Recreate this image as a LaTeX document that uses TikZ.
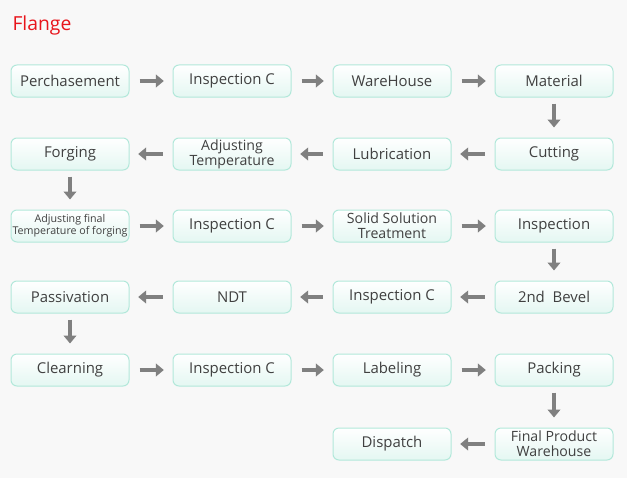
\documentclass[tikz,border=0pt]{standalone}
\usepackage{fontspec}
\setmainfont{Open Sans}
\usetikzlibrary{arrows.meta}

\definecolor{pagebg}{RGB}{248,248,248}
\definecolor{boxline}{RGB}{178,232,218}
\definecolor{boxfill}{RGB}{228,247,242}
\definecolor{flowgray}{RGB}{128,128,128}
\definecolor{titlered}{RGB}{232,20,27}

\tikzset{every picture/.style={line width=0.75pt}}
\tikzset{
  stepbox/.style={draw=boxline, rounded corners=4.5pt, top color=white, bottom color=boxfill,
    minimum width=88.5pt, minimum height=24pt, inner sep=0pt, align=center,
    font=\fontsize{11.2}{11.2}\selectfont, text=black!75},
  twoline/.style={font=\fontsize{10.6}{11}\selectfont},
  flowarrow/.style={draw=flowgray, line width=2.8pt, -{Triangle[length=6pt,width=9.5pt]}},
  harrow/.style={flowarrow, shorten <=7.5pt, shorten >=6.5pt},
  varrow/.style={flowarrow, shorten <=4.5pt, shorten >=7.5pt}
}

\begin{document}
\begin{tikzpicture}[x=0.75pt,y=0.75pt,yscale=-1,xscale=1]
	%background
	\fill[pagebg] (0,0) rectangle (627,478);

	% Title
	\draw (12,25) node [anchor=west, inner sep=0pt, text=titlered, font=\fontsize{14.5}{14.5}\selectfont] (title) {Flange};

	% Row 1
	\node[stepbox] (perch) at (70,81) {Perchasement};
	\node[stepbox] (insp1) at (232,81) {Inspection C};
	\node[stepbox] (ware) at (392,81) {WareHouse};
	\node[stepbox] (mat) at (554,81) {Material};
	% Row 2
	\node[stepbox] (cut) at (554,154) {Cutting};
	\node[stepbox] (lub) at (392,154) {Lubrication};
	\node[stepbox, twoline] (adjt) at (232,154) {Adjusting\\Temperature};
	\node[stepbox] (forg) at (70,154) {Forging};
	% Row 3
	\node[stepbox, font=\fontsize{8}{8}\selectfont] (adjf) at (70,226) {Adjusting final\\Temperature of forging};
	\node[stepbox] (insp2) at (232,226) {Inspection C};
	\node[stepbox, twoline] (solid) at (392,226) {Solid Solution\\Treatment};
	\node[stepbox] (insp3) at (554,226) {Inspection};
	% Row 4
	\node[stepbox] (bevel) at (554,297) {2nd~~Bevel};
	\node[stepbox] (insp4) at (392,297) {Inspection C};
	\node[stepbox] (ndt) at (232,297) {NDT};
	\node[stepbox] (pass) at (70,297) {Passivation};
	% Row 5
	\node[stepbox] (clear) at (70,370) {Clearning};
	\node[stepbox] (insp5) at (232,370) {Inspection C};
	\node[stepbox] (label) at (392,370) {Labeling};
	\node[stepbox] (pack) at (554,370) {Packing};
	% Row 6
	\node[stepbox, twoline] (fpw) at (554,444) {Final Product\\Warehouse};
	\node[stepbox] (disp) at (392,444) {Dispatch};

	% Arrows
	\draw[harrow] (perch) -- (insp1);
	\draw[harrow] (insp1) -- (ware);
	\draw[harrow] (ware) -- (mat);
	\draw[varrow] (mat) -- (cut);
	\draw[harrow] (cut) -- (lub);
	\draw[harrow] (lub) -- (adjt);
	\draw[harrow] (adjt) -- (forg);
	\draw[varrow] (forg) -- (adjf);
	\draw[harrow] (adjf) -- (insp2);
	\draw[harrow] (insp2) -- (solid);
	\draw[harrow] (solid) -- (insp3);
	\draw[varrow] (insp3) -- (bevel);
	\draw[harrow] (bevel) -- (insp4);
	\draw[harrow] (insp4) -- (ndt);
	\draw[harrow] (ndt) -- (pass);
	\draw[varrow] (pass) -- (clear);
	\draw[harrow] (clear) -- (insp5);
	\draw[harrow] (insp5) -- (label);
	\draw[harrow] (label) -- (pack);
	\draw[varrow] (pack) -- (fpw);
	\draw[harrow] (fpw) -- (disp);

\end{tikzpicture}
\end{document}
